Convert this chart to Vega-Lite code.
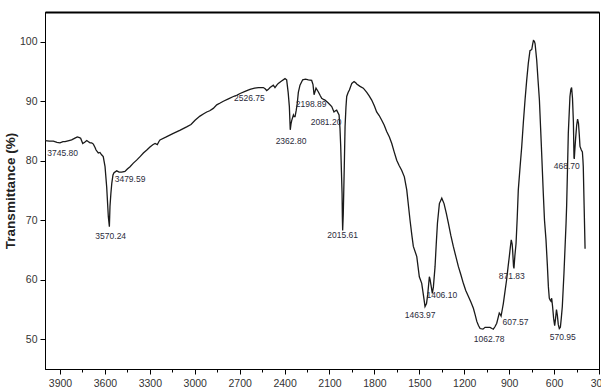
{
  "$schema": "https://vega.github.io/schema/vega-lite/v6.json",
  "width": 554,
  "height": 357,
  "autosize": "none",
  "padding": {"left": 45, "top": 12, "right": 2, "bottom": 21},
  "background": "white",
  "config": {
    "view": {"stroke": "black", "strokeWidth": 1},
    "font": "Liberation Sans",
    "axis": {"domainColor": "black", "tickColor": "black", "labelColor": "#333333", "labelFont": "Liberation Sans", "grid": false}
  },
  "datasets": {
    "spectrum": [
      {"wn": 4000, "T": 83.4}, {"wn": 3970, "T": 83.3}, {"wn": 3944, "T": 83.3}, {"wn": 3920, "T": 83.1},
      {"wn": 3900, "T": 83.0}, {"wn": 3880, "T": 83.2}, {"wn": 3866, "T": 83.2}, {"wn": 3840, "T": 83.4},
      {"wn": 3822, "T": 83.5}, {"wn": 3800, "T": 83.8}, {"wn": 3784, "T": 84.0}, {"wn": 3770, "T": 83.9},
      {"wn": 3762, "T": 83.8}, {"wn": 3748, "T": 82.9}, {"wn": 3735, "T": 83.1}, {"wn": 3721, "T": 83.4},
      {"wn": 3710, "T": 83.2}, {"wn": 3699, "T": 83.0}, {"wn": 3688, "T": 83.0}, {"wn": 3677, "T": 82.8},
      {"wn": 3665, "T": 82.2}, {"wn": 3659, "T": 81.8}, {"wn": 3644, "T": 81.3}, {"wn": 3633, "T": 81.4},
      {"wn": 3622, "T": 81.0}, {"wn": 3611, "T": 80.7}, {"wn": 3599, "T": 79.0}, {"wn": 3588, "T": 75.6},
      {"wn": 3577, "T": 70.6}, {"wn": 3570, "T": 68.9}, {"wn": 3566, "T": 72.3}, {"wn": 3560, "T": 74.5},
      {"wn": 3554, "T": 76.2}, {"wn": 3546, "T": 77.6}, {"wn": 3539, "T": 78.0}, {"wn": 3521, "T": 78.3},
      {"wn": 3505, "T": 78.1}, {"wn": 3488, "T": 78.1}, {"wn": 3466, "T": 78.2}, {"wn": 3450, "T": 78.6},
      {"wn": 3432, "T": 79.0}, {"wn": 3410, "T": 79.6}, {"wn": 3388, "T": 80.1}, {"wn": 3365, "T": 80.7},
      {"wn": 3343, "T": 81.3}, {"wn": 3320, "T": 81.8}, {"wn": 3299, "T": 82.3}, {"wn": 3280, "T": 82.7},
      {"wn": 3265, "T": 82.9}, {"wn": 3250, "T": 82.7}, {"wn": 3240, "T": 83.2}, {"wn": 3232, "T": 83.5},
      {"wn": 3190, "T": 84.0}, {"wn": 3143, "T": 84.6}, {"wn": 3100, "T": 85.1}, {"wn": 3054, "T": 85.7},
      {"wn": 3025, "T": 86.1}, {"wn": 2998, "T": 86.8}, {"wn": 2965, "T": 87.5}, {"wn": 2940, "T": 87.9},
      {"wn": 2920, "T": 88.2}, {"wn": 2900, "T": 88.4}, {"wn": 2876, "T": 88.8}, {"wn": 2853, "T": 89.4},
      {"wn": 2830, "T": 89.7}, {"wn": 2809, "T": 90.0}, {"wn": 2775, "T": 90.4}, {"wn": 2742, "T": 90.8},
      {"wn": 2720, "T": 91.0}, {"wn": 2697, "T": 91.3}, {"wn": 2660, "T": 91.7}, {"wn": 2631, "T": 92.0},
      {"wn": 2600, "T": 92.2}, {"wn": 2575, "T": 92.3}, {"wn": 2542, "T": 92.3}, {"wn": 2530, "T": 92.1},
      {"wn": 2519, "T": 91.8}, {"wn": 2508, "T": 92.0}, {"wn": 2497, "T": 92.3}, {"wn": 2475, "T": 92.7},
      {"wn": 2464, "T": 92.3}, {"wn": 2452, "T": 92.7}, {"wn": 2442, "T": 93.0}, {"wn": 2420, "T": 93.4},
      {"wn": 2397, "T": 93.8}, {"wn": 2386, "T": 93.6}, {"wn": 2376, "T": 91.5}, {"wn": 2368, "T": 89.1},
      {"wn": 2362, "T": 85.2}, {"wn": 2357, "T": 86.2}, {"wn": 2352, "T": 86.8}, {"wn": 2341, "T": 87.7},
      {"wn": 2336, "T": 87.4}, {"wn": 2330, "T": 87.4}, {"wn": 2322, "T": 88.5}, {"wn": 2315, "T": 89.7},
      {"wn": 2308, "T": 91.5}, {"wn": 2297, "T": 92.7}, {"wn": 2279, "T": 93.6}, {"wn": 2260, "T": 93.7},
      {"wn": 2241, "T": 93.6}, {"wn": 2219, "T": 93.5}, {"wn": 2210, "T": 92.8}, {"wn": 2203, "T": 91.1},
      {"wn": 2197, "T": 91.6}, {"wn": 2190, "T": 92.2}, {"wn": 2175, "T": 91.6}, {"wn": 2163, "T": 91.0},
      {"wn": 2152, "T": 90.5}, {"wn": 2140, "T": 90.3}, {"wn": 2130, "T": 90.2}, {"wn": 2108, "T": 89.7},
      {"wn": 2085, "T": 89.1}, {"wn": 2070, "T": 88.2}, {"wn": 2060, "T": 88.4}, {"wn": 2052, "T": 88.5},
      {"wn": 2036, "T": 87.7}, {"wn": 2030, "T": 85.5}, {"wn": 2025, "T": 82.4}, {"wn": 2020, "T": 78.0},
      {"wn": 2016, "T": 74.5}, {"wn": 2014, "T": 70.5}, {"wn": 2012, "T": 68.3}, {"wn": 2008, "T": 71.0},
      {"wn": 2005, "T": 74.5}, {"wn": 2000, "T": 80.5}, {"wn": 1996, "T": 85.7}, {"wn": 1990, "T": 89.0},
      {"wn": 1985, "T": 90.8}, {"wn": 1975, "T": 91.5}, {"wn": 1967, "T": 91.9}, {"wn": 1951, "T": 93.0},
      {"wn": 1936, "T": 93.3}, {"wn": 1925, "T": 93.1}, {"wn": 1918, "T": 92.9}, {"wn": 1896, "T": 92.5},
      {"wn": 1874, "T": 92.2}, {"wn": 1851, "T": 91.5}, {"wn": 1835, "T": 90.9}, {"wn": 1818, "T": 90.2},
      {"wn": 1800, "T": 89.2}, {"wn": 1785, "T": 88.2}, {"wn": 1768, "T": 87.6}, {"wn": 1751, "T": 86.8},
      {"wn": 1735, "T": 86.0}, {"wn": 1718, "T": 84.9}, {"wn": 1700, "T": 84.0}, {"wn": 1684, "T": 82.9},
      {"wn": 1668, "T": 81.5}, {"wn": 1651, "T": 80.1}, {"wn": 1635, "T": 79.2}, {"wn": 1618, "T": 78.4},
      {"wn": 1600, "T": 77.3}, {"wn": 1584, "T": 75.1}, {"wn": 1562, "T": 70.0}, {"wn": 1550, "T": 67.5},
      {"wn": 1540, "T": 65.6}, {"wn": 1517, "T": 63.9}, {"wn": 1500, "T": 60.5}, {"wn": 1484, "T": 59.4},
      {"wn": 1469, "T": 56.8}, {"wn": 1462, "T": 55.5}, {"wn": 1452, "T": 56.0}, {"wn": 1444, "T": 57.5},
      {"wn": 1433, "T": 60.5}, {"wn": 1428, "T": 60.0}, {"wn": 1422, "T": 59.1}, {"wn": 1413, "T": 57.7},
      {"wn": 1406, "T": 58.8}, {"wn": 1395, "T": 62.2}, {"wn": 1387, "T": 66.0}, {"wn": 1379, "T": 69.5},
      {"wn": 1366, "T": 72.8}, {"wn": 1350, "T": 73.7}, {"wn": 1335, "T": 72.8}, {"wn": 1320, "T": 71.2},
      {"wn": 1306, "T": 69.5}, {"wn": 1290, "T": 67.5}, {"wn": 1273, "T": 65.6}, {"wn": 1255, "T": 63.8},
      {"wn": 1239, "T": 62.2}, {"wn": 1222, "T": 60.8}, {"wn": 1206, "T": 59.4}, {"wn": 1190, "T": 58.2},
      {"wn": 1172, "T": 57.2}, {"wn": 1155, "T": 56.2}, {"wn": 1139, "T": 55.2}, {"wn": 1127, "T": 54.1},
      {"wn": 1116, "T": 53.0}, {"wn": 1105, "T": 52.3}, {"wn": 1094, "T": 51.8}, {"wn": 1075, "T": 51.7},
      {"wn": 1061, "T": 52.0}, {"wn": 1045, "T": 52.0}, {"wn": 1028, "T": 52.0}, {"wn": 1015, "T": 51.8},
      {"wn": 1006, "T": 51.7}, {"wn": 995, "T": 52.1}, {"wn": 983, "T": 52.7}, {"wn": 972, "T": 53.8},
      {"wn": 966, "T": 54.4}, {"wn": 960, "T": 54.2}, {"wn": 954, "T": 53.9}, {"wn": 946, "T": 55.0},
      {"wn": 939, "T": 56.0}, {"wn": 928, "T": 58.0}, {"wn": 917, "T": 60.0}, {"wn": 908, "T": 62.0},
      {"wn": 899, "T": 63.9}, {"wn": 892, "T": 65.5}, {"wn": 886, "T": 66.7}, {"wn": 880, "T": 66.0},
      {"wn": 877, "T": 65.0}, {"wn": 871, "T": 62.3}, {"wn": 868, "T": 61.9}, {"wn": 862, "T": 64.0},
      {"wn": 854, "T": 66.1}, {"wn": 846, "T": 70.5}, {"wn": 839, "T": 75.1}, {"wn": 827, "T": 79.0},
      {"wn": 816, "T": 82.4}, {"wn": 805, "T": 86.5}, {"wn": 794, "T": 90.2}, {"wn": 783, "T": 93.5},
      {"wn": 772, "T": 96.4}, {"wn": 761, "T": 98.5}, {"wn": 749, "T": 98.7}, {"wn": 743, "T": 99.6},
      {"wn": 738, "T": 100.2}, {"wn": 732, "T": 100.1}, {"wn": 727, "T": 99.7}, {"wn": 716, "T": 96.9},
      {"wn": 707, "T": 93.5}, {"wn": 698, "T": 90.2}, {"wn": 690, "T": 85.5}, {"wn": 683, "T": 81.3},
      {"wn": 672, "T": 74.5}, {"wn": 664, "T": 70.0}, {"wn": 654, "T": 66.7}, {"wn": 645, "T": 62.5},
      {"wn": 638, "T": 58.8}, {"wn": 632, "T": 56.9}, {"wn": 627, "T": 56.6}, {"wn": 621, "T": 56.4},
      {"wn": 616, "T": 56.9}, {"wn": 610, "T": 55.5}, {"wn": 603, "T": 53.5}, {"wn": 596, "T": 52.3},
      {"wn": 590, "T": 53.5}, {"wn": 584, "T": 55.0}, {"wn": 578, "T": 54.0}, {"wn": 572, "T": 52.5},
      {"wn": 565, "T": 51.8}, {"wn": 558, "T": 52.0}, {"wn": 552, "T": 53.5}, {"wn": 545, "T": 55.5},
      {"wn": 534, "T": 61.1}, {"wn": 520, "T": 69.5}, {"wn": 516, "T": 72.5}, {"wn": 510, "T": 79.0},
      {"wn": 505, "T": 84.6}, {"wn": 494, "T": 90.8}, {"wn": 488, "T": 92.0}, {"wn": 483, "T": 92.3},
      {"wn": 477, "T": 90.5}, {"wn": 471, "T": 86.5}, {"wn": 467, "T": 80.5}, {"wn": 465, "T": 80.3},
      {"wn": 461, "T": 82.0}, {"wn": 456, "T": 83.8}, {"wn": 449, "T": 86.0}, {"wn": 443, "T": 87.0},
      {"wn": 437, "T": 86.3}, {"wn": 432, "T": 84.5}, {"wn": 427, "T": 82.4}, {"wn": 418, "T": 81.8},
      {"wn": 411, "T": 81.5}, {"wn": 407, "T": 80.0}, {"wn": 405, "T": 79.0}, {"wn": 399, "T": 72.0},
      {"wn": 393, "T": 65.2}
    ],
    "labels": [
      {"label": "3745.80", "wn": 3882, "T": 81.35},
      {"label": "3479.59", "wn": 3432, "T": 76.9},
      {"label": "3570.24", "wn": 3561, "T": 67.35},
      {"label": "2526.75", "wn": 2635, "T": 90.6},
      {"label": "2362.80", "wn": 2357, "T": 83.4},
      {"label": "2198.89", "wn": 2223, "T": 89.5},
      {"label": "2081.20", "wn": 2123, "T": 86.5},
      {"label": "2015.61", "wn": 2012, "T": 67.5},
      {"label": "1463.97", "wn": 1495, "T": 54.0},
      {"label": "1406.10", "wn": 1350, "T": 57.4},
      {"label": "1062.78", "wn": 1034, "T": 50.0},
      {"label": "871.83", "wn": 883, "T": 60.7},
      {"label": "607.57", "wn": 858, "T": 52.9},
      {"label": "570.95", "wn": 542, "T": 50.4},
      {"label": "468.70", "wn": 515, "T": 79.2}
    ]
  },
  "layer": [
    {
      "data": {"name": "spectrum"},
      "mark": {"type": "line", "color": "#1a1a1a", "strokeWidth": 1.3, "interpolate": "linear"},
      "encoding": {
        "x": {
          "field": "wn", "type": "quantitative",
          "scale": {"domain": [300, 4000], "reverse": true, "nice": false, "zero": false},
          "axis": {
            "orient": "bottom",
            "title": null,
            "values": [3900, 3750, 3600, 3450, 3300, 3150, 3000, 2850, 2700, 2550, 2400, 2250, 2100, 1950, 1800, 1650, 1500, 1350, 1200, 1050, 900, 750, 600, 450, 300],
            "format": "d",
            "labelExpr": "datum.value % 300 === 0 ? datum.label : ''",
            "tickSize": {"condition": {"test": "datum.value % 300 === 0", "value": 5}, "value": 3},
            "labelFontSize": 10.5,
            "labelPadding": 4,
            "labelFlush": false,
            "labelOverlap": false,
            "domainWidth": 1,
            "tickWidth": 1
          }
        },
        "y": {
          "field": "T", "type": "quantitative",
          "scale": {"domain": [45, 105], "nice": false, "zero": false},
          "axis": {
            "title": "Transmittance (%)",
            "titleFontSize": 13.5,
            "titleFontWeight": "bold",
            "titleColor": "#222222",
            "titlePadding": 2,
            "values": [50, 55, 60, 65, 70, 75, 80, 85, 90, 95, 100],
            "labelExpr": "datum.value % 10 === 0 ? datum.label : ''",
            "tickSize": {"condition": {"test": "datum.value % 10 === 0", "value": 5}, "value": 3},
            "labelFontSize": 10.5,
            "labelPadding": 3,
            "labelOverlap": false,
            "domainWidth": 1,
            "tickWidth": 1
          }
        }
      }
    },
    {
      "data": {"name": "labels"},
      "mark": {"type": "text", "fontSize": 8.5, "font": "Liberation Sans", "color": "#2b2b3b", "align": "center", "baseline": "middle"},
      "encoding": {
        "x": {
          "field": "wn", "type": "quantitative",
          "axis": {"orient": "top", "title": null, "labels": false, "ticks": false, "domainWidth": 2, "domainColor": "black"}
        },
        "y": {"field": "T", "type": "quantitative"},
        "text": {"field": "label"}
      }
    }
  ],
  "resolve": {"axis": {"x": "independent"}}
}
